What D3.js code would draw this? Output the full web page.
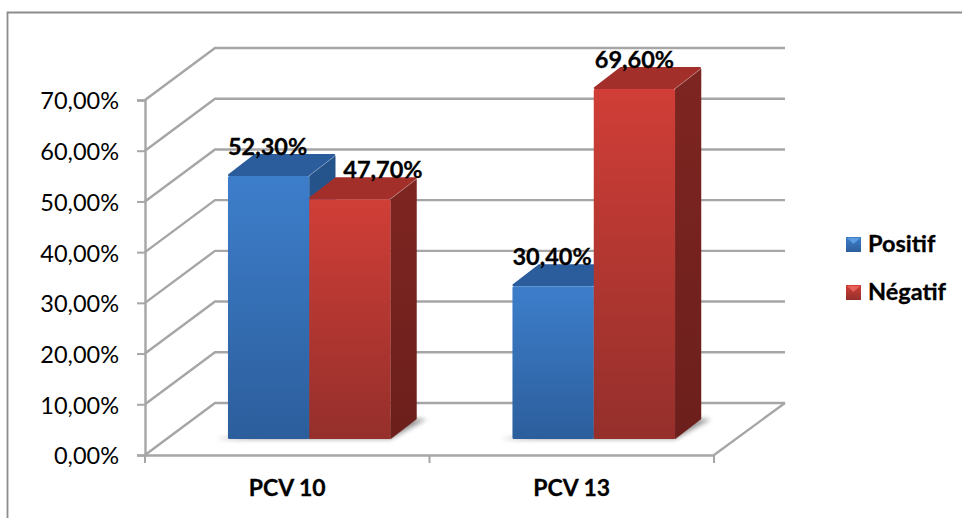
<!DOCTYPE html>
<html><head><meta charset="utf-8">
<script src="https://cdnjs.cloudflare.com/ajax/libs/d3/7.8.5/d3.min.js"></script>
<style>html,body{margin:0;padding:0;background:#fff}svg{display:block}text{font-family:Lato,"Open Sans",sans-serif;fill:#000}</style>
</head><body><svg id="c" width="962" height="518"></svg>
<script>
const categories = ["PCV 10", "PCV 13"];
const seriesNames = ["Positif", "Négatif"];
const positif = [52.3, 30.4];
const negatif = [47.7, 69.6];
const yTicks = [0, 10, 20, 30, 40, 50, 60, 70];
const fmt = v => v.toFixed(2).replace(".", ",") + "%";

const svg = d3.select("#c");
const plotL = 145, plotR = 714, plotB = 455, plotT = 100;
const backDx = 70, backDy = -52;
const y = d3.scaleLinear().domain([0, 70]).range([plotB, plotT]);
const yBar = d3.scaleLinear().domain([0, 70]).range([439, 87]);
const x0 = d3.scaleBand().domain(categories).range([plotL, plotR]);
const x1 = d3.scaleBand().domain(seriesNames).range([0, x0.bandwidth()]).paddingInner(0).paddingOuter(0.75);
const palette = {
  "Positif": {a:"#3d7ecb", b:"#2c5e9c", top:"#2b5c9c", side:"#25548c", side2:"#1f4877", hi:"#5b9be0"},
  "Négatif": {a:"#d03e37", b:"#952f2b", top:"#a32f2b", side:"#7e2521", side2:"#6c1f1c", hi:"#e8605a"}
};

const defs = svg.append("defs");
seriesNames.forEach((s,i)=>{
  const g = defs.append("linearGradient").attr("id","f"+i).attr("x1",0).attr("y1",0).attr("x2",0).attr("y2",1);
  g.append("stop").attr("offset",0).attr("stop-color",palette[s].a);
  g.append("stop").attr("offset",1).attr("stop-color",palette[s].b);
  const h = defs.append("linearGradient").attr("id","s"+i).attr("x1",0).attr("y1",0).attr("x2",0).attr("y2",1);
  h.append("stop").attr("offset",0).attr("stop-color",palette[s].side);
  h.append("stop").attr("offset",1).attr("stop-color",palette[s].side2);
});
defs.append("filter").attr("id","blur").attr("x","-20%").attr("y","-100%").attr("width","140%").attr("height","300%")
  .append("feGaussianBlur").attr("stdDeviation",2.5);

// outer frame: only the top and left edges are visible
svg.append("path").attr("d","M7.5,518 L7.5,12.5 L962,12.5").attr("fill","none")
  .attr("stroke","#8c8c8c").attr("stroke-width",1.8);

const grid = "#a6a6a6";
const gl = svg.append("g").attr("fill","none").attr("stroke",grid).attr("stroke-width",2.4);
yTicks.forEach(t=>{
  const p = d3.path();
  p.moveTo(plotL, y(t)); p.lineTo(plotL+backDx, y(t)+backDy); p.lineTo(plotR+backDx+1, y(t)+backDy);
  gl.append("path").attr("d",p.toString());
});
const fp = d3.path();
fp.moveTo(plotR, y(0)); fp.lineTo(plotR+backDx+1, y(0)+backDy);
gl.append("path").attr("d",fp.toString());

// axes
const yAxis = d3.axisLeft(y).tickValues(yTicks).tickFormat(fmt).tickSize(8).tickPadding(18);
const gy = svg.append("g").attr("transform",`translate(${plotL},0)`).call(yAxis);
gy.select(".domain").attr("stroke",grid).attr("stroke-width",2.4);
gy.selectAll(".tick line").attr("stroke",grid).attr("stroke-width",2);
gy.selectAll("text").style("font-size","23.5px").style("font-family","Lato").attr("dy","0.38em");

const xAxis = d3.axisBottom(x0).tickSize(0).tickPadding(25);
const gx = svg.append("g").attr("transform",`translate(0,${plotB})`).call(xAxis);
gx.select(".domain").attr("stroke",grid).attr("stroke-width",2.4);
gx.selectAll("text").style("font-size","23px").style("font-weight",700).style("font-family","Lato")
  .attr("stroke","#000").attr("stroke-width",0.3);
[plotL, x0(categories[1]), plotR].forEach(px=>{
  gx.append("line").attr("x1",px).attr("x2",px).attr("y1",0).attr("y2",8).attr("stroke",grid).attr("stroke-width",2);
});

// bars
const shiftX = 22, depthX = 26, depthY = -20;
const rows = categories.flatMap((c,i)=>[
  {c, s:seriesNames[0], k:0, v:positif[i]},
  {c, s:seriesNames[1], k:1, v:negatif[i]}
]);
const barX = d => x0(d.c) + x1(d.s) + shiftX;
const barW = x1.bandwidth();
const base = yBar(0);

categories.forEach(c=>{
  const xa = x0(c)+x1(seriesNames[0])+shiftX, xb = x0(c)+x1(seriesNames[1])+shiftX+barW;
  svg.append("path").attr("filter","url(#blur)").attr("fill","#000").attr("opacity",0.42)
    .attr("d",`M${xa-12},${base} L${xb},${base} L${xb+depthX+10},${base+depthY} L${xb},${base+depthY} Z`);
});

const bars = svg.append("g").selectAll("g").data(rows).join("g");
bars.append("path").attr("fill",d=>`url(#s${d.k})`).attr("stroke",d=>palette[d.s].side2).attr("stroke-opacity",0.4).attr("stroke-width",1).attr("stroke-linejoin","round")
  .attr("d",d=>{const X=barX(d)+barW,T=yBar(d.v);return `M${X},${T} L${X+depthX},${T+depthY} L${X+depthX},${base+depthY} L${X},${base} Z`;});
bars.append("path").attr("fill",d=>palette[d.s].top).attr("stroke",d=>palette[d.s].top).attr("stroke-width",2).attr("stroke-linejoin","round")
  .attr("d",d=>{const X=barX(d)+1,T=yBar(d.v)-1;return `M${X},${T} L${X+depthX},${T+depthY} L${X+barW+depthX-2},${T+depthY} L${X+barW-2},${T} Z`;});
bars.append("rect").attr("x",barX).attr("y",d=>yBar(d.v)).attr("width",barW).attr("height",d=>base-yBar(d.v))
  .attr("rx",1.5).attr("fill",d=>`url(#f${d.k})`);

// labels
const nudge = d => d.c===categories[0] && d.k===1 ? 33 : (d.k===0 ? -1 : 0);
svg.append("g").selectAll("text").data(rows).join("text")
  .attr("x",d=>barX(d)+barW/2+nudge(d)).attr("y",d=>yBar(d.v)-21)
  .attr("text-anchor","middle").style("font-size","23.5px").style("font-weight",700)
  .attr("stroke","#000").attr("stroke-width",0.3)
  .text(d=>fmt(d.v));

// legend
const ly = d3.scalePoint().domain(seriesNames).range([252,300]);
const lg = svg.append("g").selectAll("g").data(seriesNames).join("g").attr("transform",d=>`translate(846,${ly(d)-15})`);
lg.append("rect").attr("width",15).attr("height",15).attr("fill",(d,i)=>`url(#f${i})`);
lg.append("path").attr("d","M1,1 L14,1 L7.5,7 Z").attr("fill",d=>palette[d].hi);
lg.append("text").attr("x",22).attr("y",15).style("font-size","23.5px").style("font-weight",700)
  .attr("stroke","#000").attr("stroke-width",0.3).text(d=>d);
</script></body></html>
